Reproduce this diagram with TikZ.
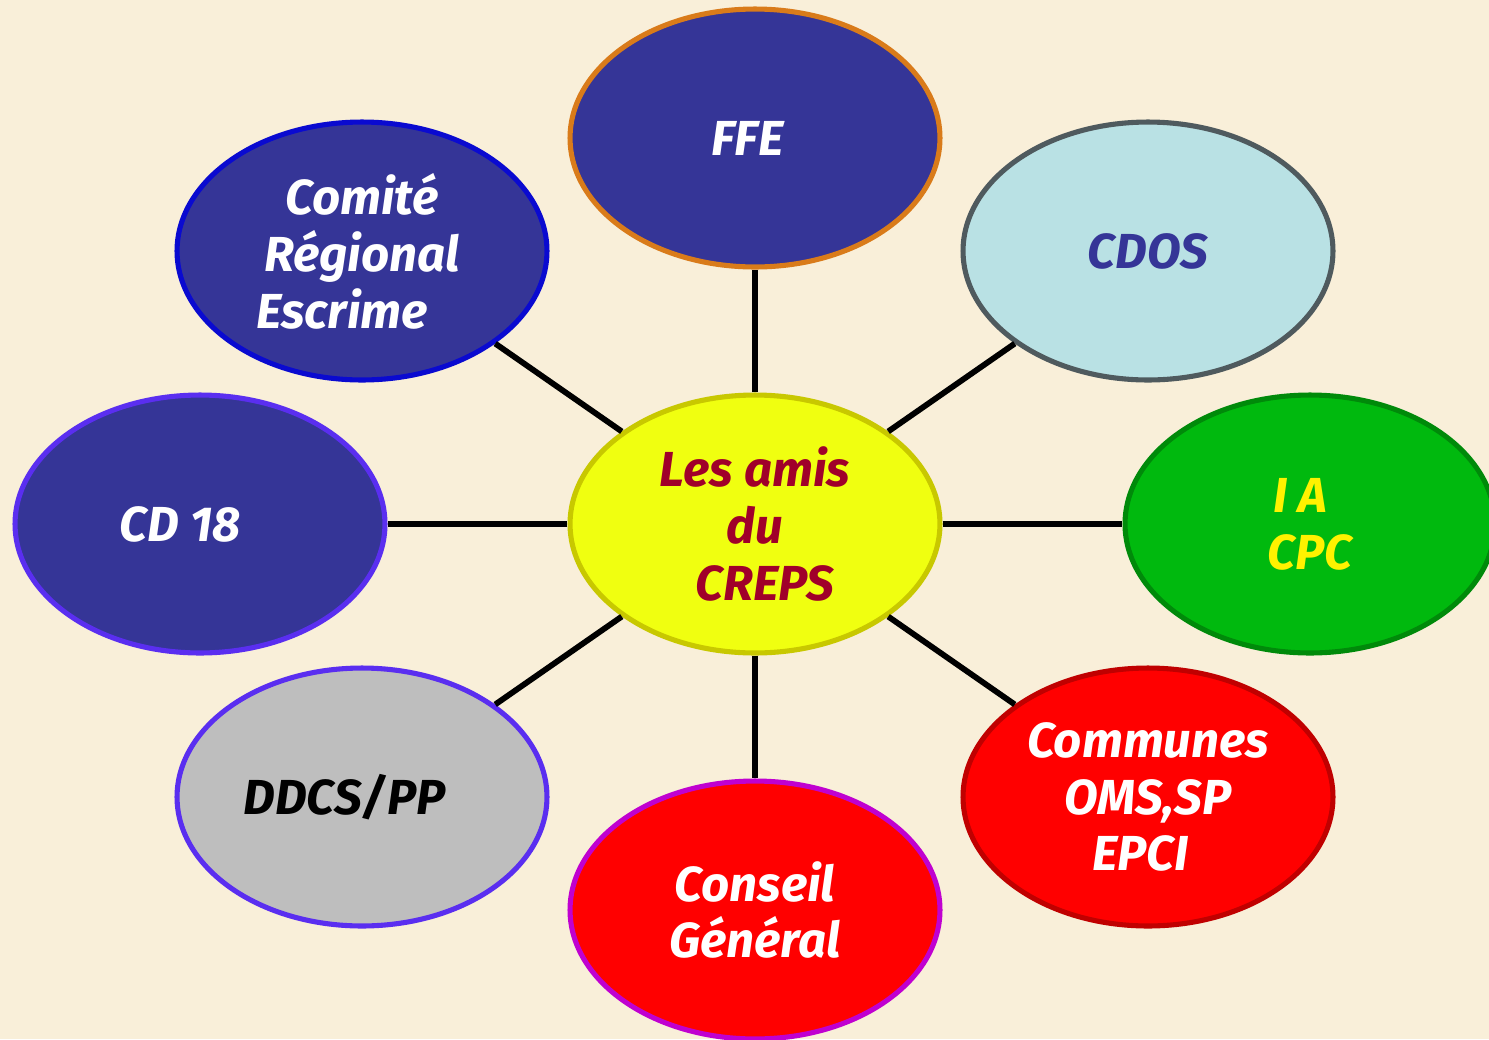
\documentclass[tikz,border=0pt]{standalone}
\usepackage{fontspec}
\setmainfont{Fira Sans}
\usepackage{tikz}
\usetikzlibrary{shapes.geometric, positioning}
\definecolor{parchment}{HTML}{F9EFD9}
\definecolor{navy}{HTML}{353597}
\definecolor{ffeorange}{HTML}{D97B1A}
\definecolor{crblue}{HTML}{0A0AD0}
\definecolor{cdosfill}{HTML}{B9E1E4}
\definecolor{cdosedge}{HTML}{4F5A5E}
\definecolor{violetedge}{HTML}{5A2EF0}
\definecolor{hubfill}{HTML}{F0FF10}
\definecolor{hubedge}{HTML}{C8C800}
\definecolor{hubtext}{HTML}{A0002A}
\definecolor{iafill}{HTML}{00B90E}
\definecolor{iaedge}{HTML}{008A0A}
\definecolor{ddcsfill}{HTML}{BEBEBE}
\definecolor{cgedge}{HTML}{C000D0}
\definecolor{comedge}{HTML}{C00000}
\tikzstyle{partner} = [ellipse, minimum width=7.4cm, minimum height=5.16cm, line width=2.9pt, align=center, font=\fontsize{28}{32.4}\selectfont\bfseries\itshape]
\tikzstyle{link} = [line width=3.3pt, black]

\begin{document}
\begin{tikzpicture}[x=0.02cm, y=-0.02cm]
\useasboundingbox (0,0) rectangle (1489,1039);
\fill[parchment] (0,0) rectangle (1489,1039);
\clip (0,0) rectangle (1489,1039);
% Nodes
\node (hub) [partner, fill=hubfill, draw=hubedge, text=hubtext] at (755,524) {Les amis\\du\\\hspace*{0.4cm}CREPS};
\node (ffe) [partner, fill=navy, draw=ffeorange, text=white] at (755,138) {FFE\hspace*{0.3cm}};
\node (cre) [partner, fill=navy, draw=crblue, text=white] at (362,251) {Comité\\Régional\\Escrime\hspace*{0.8cm}};
\node (cdos) [partner, fill=cdosfill, draw=cdosedge, text=navy] at (1148,251) {CDOS};
\node (cd) [partner, fill=navy, draw=violetedge, text=white] at (200,524) {CD 18\hspace*{0.8cm}};
\node (ia) [partner, fill=iafill, draw=iaedge, text=yellow] at (1310,524) {I A\hspace*{0.4cm}\\CPC};
\node (ddcs) [partner, fill=ddcsfill, draw=violetedge, text=black] at (362,797) {DDCS/PP\hspace*{0.7cm}};
\node (cg) [partner, fill=red, draw=cgedge, text=white] at (755,910) {Conseil\\Général};
\node (com) [partner, fill=red, draw=comedge, text=white] at (1148,797) {Communes\\OMS,SP\\EPCI\hspace*{0.3cm}};

% Links
\draw [link] (hub) -- (ffe);
\draw [link] (hub) -- (cre);
\draw [link] (hub) -- (cdos);
\draw [link] (hub) -- (cd);
\draw [link] (hub) -- (ia);
\draw [link] (hub) -- (ddcs);
\draw [link] (hub) -- (cg);
\draw [link] (hub) -- (com);
\end{tikzpicture}
\end{document}
